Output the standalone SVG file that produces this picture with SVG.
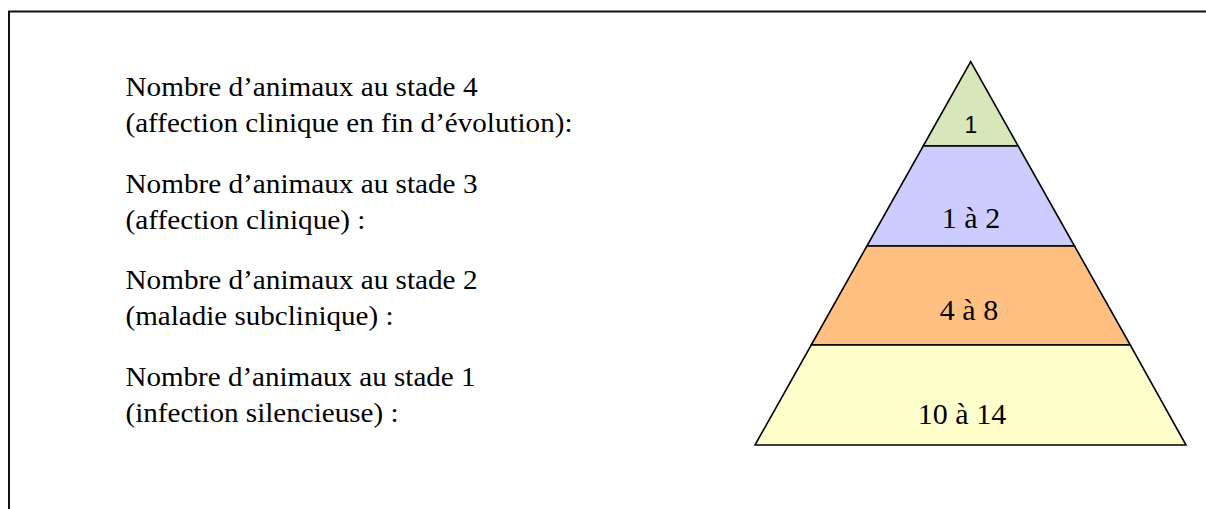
<svg xmlns="http://www.w3.org/2000/svg" width="1206" height="509" viewBox="0 0 1206 509">
<style>
.lbl{font-size:27px;fill:#000}
.val{font-size:30px;fill:#000;text-anchor:middle}
.tier{stroke:#000;stroke-width:1.6;stroke-linejoin:miter}
</style>
<rect x="0" y="0" width="1206" height="509" fill="#fff"/>
<rect x="9" y="11.5" width="1400" height="700" fill="none" stroke="#111" stroke-width="2"/>
<g id="labels" font-family="'Liberation Serif', 'Times New Roman', Times, serif">
<g id="label-stade4">
<text class="lbl" x="125.5" y="96" textLength="352" lengthAdjust="spacingAndGlyphs">Nombre d’animaux au stade 4</text>
<text class="lbl" x="125.5" y="132" textLength="447" lengthAdjust="spacingAndGlyphs">(affection clinique en fin d’évolution):</text>
</g>
<g id="label-stade3">
<text class="lbl" x="125.5" y="192.7" textLength="352" lengthAdjust="spacingAndGlyphs">Nombre d’animaux au stade 3</text>
<text class="lbl" x="125.5" y="228.7" textLength="240" lengthAdjust="spacingAndGlyphs">(affection clinique) :</text>
</g>
<g id="label-stade2">
<text class="lbl" x="125.5" y="289.3" textLength="352" lengthAdjust="spacingAndGlyphs">Nombre d’animaux au stade 2</text>
<text class="lbl" x="125.5" y="325.3" textLength="268" lengthAdjust="spacingAndGlyphs">(maladie subclinique) :</text>
</g>
<g id="label-stade1">
<text class="lbl" x="125.5" y="386" textLength="350" lengthAdjust="spacingAndGlyphs">Nombre d’animaux au stade 1</text>
<text class="lbl" x="125.5" y="422" textLength="273" lengthAdjust="spacingAndGlyphs">(infection silencieuse) :</text>
</g>
</g>
<g id="pyramid" font-family="'Liberation Serif', 'Times New Roman', Times, serif">
<g id="tier-4">
<polygon class="tier" fill="#D7E7B9" points="970.7,61.7 1018.2,146 923.2,146"/>
<text x="971" y="133" font-family="'Liberation Sans', Arial, sans-serif" font-size="23" text-anchor="middle">1</text>
</g>
<g id="tier-3">
<polygon class="tier" fill="#CCCCFF" points="923.2,146 1018.2,146 1074.5,246 866.9,246"/>
<text class="val" x="971" y="228">1 à 2</text>
</g>
<g id="tier-2">
<polygon class="tier" fill="#FFBF80" points="866.9,246 1074.5,246 1130.3,345 811.2,345"/>
<text class="val" x="969" y="320">4 à 8</text>
</g>
<g id="tier-1">
<polygon class="tier" fill="#FFFFCC" points="811.2,345 1130.3,345 1186,445 755,445"/>
<text class="val" x="962" y="424">10 à 14</text>
</g>
</g>
</svg>
